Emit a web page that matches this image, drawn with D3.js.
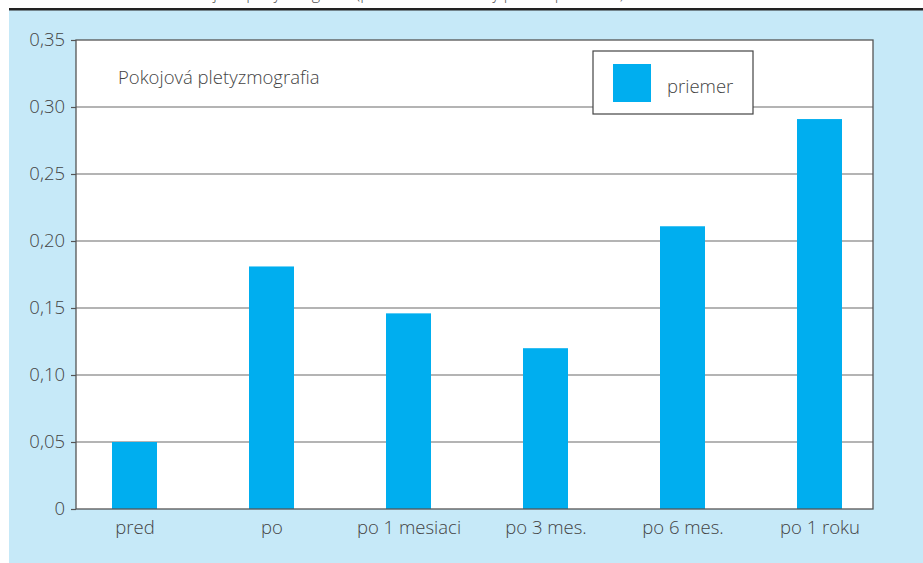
<!DOCTYPE html>
<html>
<head>
<meta charset="utf-8">
<script src="https://cdn.jsdelivr.net/npm/d3@7"></script>
<style>
  body { margin: 0; background: #fff; }
  svg { display: block; font-family: "Open Sans", "Noto Sans", sans-serif; }
</style>
</head>
<body>
<div id="chart"></div>
<script>
// kategórie a hodnoty (priemer)
const categories = ["pred", "po", "po 1 mesiaci", "po 3 mes.", "po 6 mes.", "po 1 roku"];
const values = [0.05, 0.181, 0.146, 0.12, 0.211, 0.291];
const yTicks = [0, 0.05, 0.10, 0.15, 0.20, 0.25, 0.30, 0.35];
const seriesName = "priemer";
const chartTitle = "Pokojová pletyzmografia";

const width = 923, height = 563;
const plot = {left: 76, right: 873, top: 40, bottom: 509};
const fs = 18.5;

const svg = d3.select("#chart").append("svg")
    .attr("width", width)
    .attr("height", height);

// pozadie
svg.append("rect").attr("x", 9).attr("y", 10).attr("width", width - 9).attr("height", height - 10)
    .attr("fill", "#c6e9f8");
svg.append("rect").attr("x", 9).attr("y", 8).attr("width", width - 9).attr("height", 2.5)
    .attr("fill", "#222");
// orezaný popis nad grafom (v predlohe je vidieť len spodok písmen)
svg.append("text").attr("x", 125).attr("y", -1)
    .attr("font-size", 16).attr("fill", "#555").attr("font-weight", 300)
    .text("Graf 1. Pokojová pletyzmografia (priemerné hodnoty pred a po liečbe)");

svg.append("rect")
    .attr("x", plot.left).attr("y", plot.top)
    .attr("width", plot.right - plot.left).attr("height", plot.bottom - plot.top)
    .attr("fill", "#fff");

const y = d3.scaleLinear().domain([0, 0.35]).range([plot.bottom, plot.top]);
const x = d3.scalePoint().domain(categories).range([134.5, 819.5]);
const barW = 45;

// mriežka
svg.append("g").selectAll("line").data(yTicks.slice(1, -1)).join("line")
    .attr("x1", plot.left).attr("x2", plot.right)
    .attr("y1", d => y(d)).attr("y2", d => y(d))
    .attr("stroke", "#6b6b6b").attr("stroke-width", 1.2);

// stĺpce
svg.append("g").selectAll("rect").data(values).join("rect")
    .attr("x", (d, i) => x(categories[i]) - barW / 2)
    .attr("y", d => y(d))
    .attr("width", barW)
    .attr("height", d => y(0) - y(d))
    .attr("fill", "#00aeef");

// rámik
svg.append("rect")
    .attr("x", plot.left).attr("y", plot.top)
    .attr("width", plot.right - plot.left).attr("height", plot.bottom - plot.top)
    .attr("fill", "none").attr("stroke", "#555").attr("stroke-width", 1.3);

// os y
const fmt = d => d === 0 ? "0" : d.toFixed(2).replace(".", ",");
const yAxis = svg.append("g")
    .attr("transform", `translate(${plot.left},0)`)
    .call(d3.axisLeft(y).tickValues(yTicks).tickFormat(fmt).tickSize(5).tickPadding(6));
yAxis.select(".domain").remove();
yAxis.selectAll("line").attr("stroke", "#555").attr("stroke-width", 1.2);
yAxis.selectAll("text").attr("font-size", fs).attr("fill", "#444")
    .attr("font-family", "Open Sans").attr("font-weight", 300);

// os x
const xAxis = svg.append("g")
    .attr("transform", `translate(0,${plot.bottom})`)
    .call(d3.axisBottom(x).tickSize(0).tickPadding(12));
xAxis.select(".domain").remove();
xAxis.selectAll("text").attr("font-size", fs).attr("fill", "#444")
    .attr("font-family", "Open Sans").attr("font-weight", 300);

// názov
svg.append("text").attr("x", 118).attr("y", 84)
    .attr("font-size", fs).attr("fill", "#444").attr("font-weight", 300)
    .text(chartTitle);

// legenda
const lg = svg.append("g").attr("transform", "translate(593,51)");
lg.append("rect").attr("width", 160).attr("height", 63)
    .attr("fill", "#fff").attr("stroke", "#444").attr("stroke-width", 1.2);
lg.append("rect").attr("x", 20).attr("y", 13).attr("width", 38).attr("height", 38).attr("fill", "#00aeef");
lg.append("text").attr("x", 74).attr("y", 42)
    .attr("font-size", fs).attr("fill", "#444").attr("font-weight", 300)
    .text(seriesName);
</script>
</body>
</html>
